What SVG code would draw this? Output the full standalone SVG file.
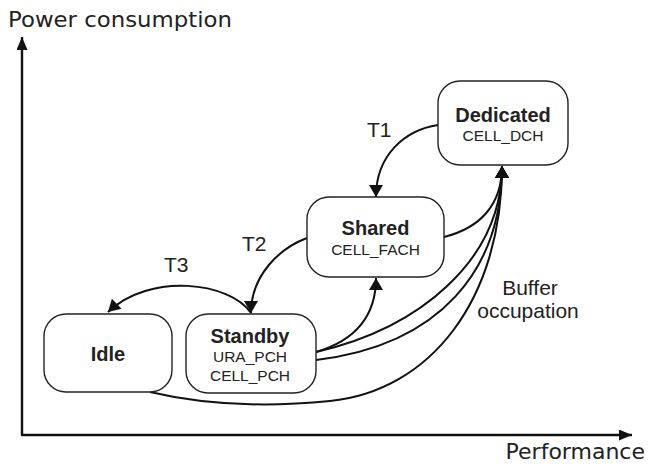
<svg xmlns="http://www.w3.org/2000/svg" width="651" height="466" viewBox="0 0 651 466">
<defs>
<style>
.box{fill:#fff;stroke:#222;stroke-width:1.4}
.title{font-family:"Liberation Sans",Arial,sans-serif;font-weight:bold;font-size:20px;fill:#222;text-anchor:middle}
.sub{font-family:"Liberation Sans",Arial,sans-serif;font-size:15.5px;fill:#222;text-anchor:middle}
.lbl{font-family:"Liberation Sans",Arial,sans-serif;font-size:21px;fill:#222}
.ax{font-family:"DejaVu Sans",sans-serif;font-size:22px;fill:#222}
.edge{fill:none;stroke:#111;stroke-width:2}
.axis{fill:none;stroke:#111;stroke-width:2.4}
</style>
<marker id="ah" markerUnits="userSpaceOnUse" markerWidth="14" markerHeight="14" viewBox="0 0 12 14" refX="12" refY="7" orient="auto">
<path d="M0,0 L12,7 L0,14 z" fill="#111"/>
</marker>
<marker id="axh" markerUnits="userSpaceOnUse" markerWidth="13" markerHeight="11" viewBox="0 0 13 11" refX="13" refY="5.5" orient="auto">
<path d="M0,0 L13,5.5 L0,11 z" fill="#111"/>
</marker>
</defs>
<rect width="651" height="466" fill="#fff"/>
<g id="axes">
<path class="axis" d="M22 435 L22 37" marker-end="url(#axh)"/>
<path class="axis" d="M21 435 L632 435" marker-end="url(#axh)"/>
<text class="ax" x="8" y="27" textLength="224" lengthAdjust="spacingAndGlyphs">Power consumption</text>
<text class="ax" x="645" y="459" text-anchor="end">Performance</text>
</g>
<g id="connectors">
<path class="edge" d="M438 125 C405 130 376 155 376 197" marker-end="url(#ah)"/>
<path class="edge" d="M307 238 C280 248 251 275 251 313" marker-end="url(#ah)"/>
<path class="edge" d="M251 313 C230 282 150 272 108 312" marker-end="url(#ah)"/>
<path class="edge" d="M316 352 C350 342 376 320 376 278" marker-end="url(#ah)"/>
<path class="edge" d="M444 237 C480 228 502 205 502 166" marker-end="url(#ah)"/>
<path class="edge" d="M316 352 C420 328 502 260 502 166" marker-end="url(#ah)"/>
<path class="edge" d="M316 360 C440 345 502 270 502 166" marker-end="url(#ah)"/>
<path class="edge" d="M150 392 Q230 411 330 401 C430 391 502 300 502 166" marker-end="url(#ah)"/>
<text class="lbl" x="367" y="137">T1</text>
<text class="lbl" x="242" y="251">T2</text>
<text class="lbl" x="164" y="272">T3</text>
<text class="lbl" x="530" y="295" font-size="20" text-anchor="middle">Buffer</text>
<text class="lbl" x="528" y="318" font-size="20" text-anchor="middle">occupation</text>
</g>
<g id="dedicated">
<rect class="box" x="438" y="81" width="130" height="84" rx="22"/>
<text class="title" x="503" y="122">Dedicated</text>
<text class="sub" x="503" y="141">CELL_DCH</text>
</g>
<g id="shared">
<rect class="box" x="307" y="197" width="137" height="80" rx="22"/>
<text class="title" x="375.5" y="235">Shared</text>
<text class="sub" x="375.5" y="255">CELL_FACH</text>
</g>
<g id="idle">
<rect class="box" x="44" y="314" width="128" height="78" rx="22"/>
<text class="title" x="108" y="361">Idle</text>
</g>
<g id="standby">
<rect class="box" x="186" y="314" width="130" height="79" rx="22"/>
<text class="title" x="250" y="343">Standby</text>
<text class="sub" x="250" y="362">URA_PCH</text>
<text class="sub" x="250" y="381">CELL_PCH</text>
</g>
</svg>
